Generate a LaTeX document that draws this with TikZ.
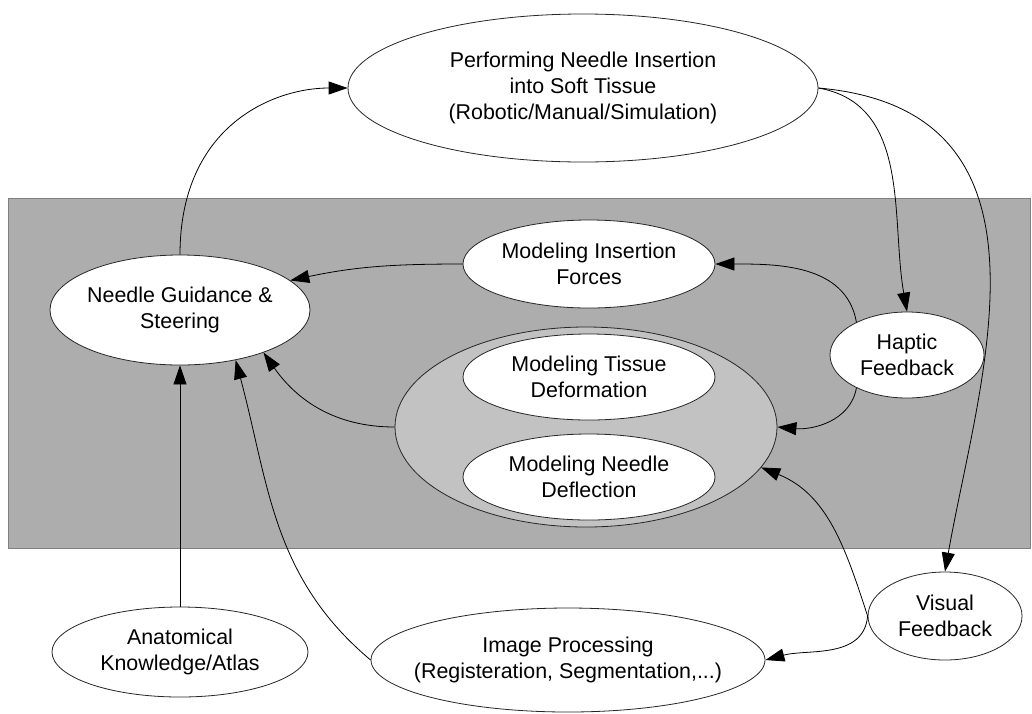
\documentclass[tikz,border=0pt]{standalone}
\usepackage{fontspec}
\setmainfont{Liberation Sans}
\usetikzlibrary{shapes.geometric, arrows.meta}
\definecolor{band}{gray}{0.68}
\definecolor{groupfill}{gray}{0.76}
\definecolor{rim}{gray}{0.5}
\tikzset{
    ->, % Directed connectors
    >={Triangle[length=9.5pt,width=6.5pt]}, % Filled triangle heads
    x=0.5pt, y=-0.5pt, % One unit is one pixel, counted downwards
    topic/.style={ellipse, draw=black!85, fill=white, thin, inner sep=0pt,
        align=center, font=\fontsize{10.7}{12.8}\selectfont}, % White bubbles
    group/.style={ellipse, draw=black!85, fill=groupfill, thin, inner sep=0pt}, % Modeling bubble
}

\begin{document}
\begin{tikzpicture}
    \useasboundingbox (0,0) rectangle (1032,713);
    \draw[-, draw=rim, fill=band] (8,198) rectangle (1030,548);

    \node[group, minimum width=191pt, minimum height=100pt] (model) at (586,427) {};
    \node[topic, minimum width=235pt, minimum height=74pt] (perform) at (583,88)
        {Performing Needle Insertion\\into Soft Tissue\\(Robotic/Manual/Simulation)};
    \node[topic, minimum width=130pt, minimum height=55pt, inner xsep=-2pt] (guide) at (180,310)
        {Needle Guidance \&\\Steering};
    \node[topic, minimum width=126pt, minimum height=44pt] (forces) at (589,264)
        {Modeling Insertion\\Forces};
    \node[topic, minimum width=126pt, minimum height=43pt] (tissue) at (589,377)
        {Modeling Tissue\\Deformation};
    \node[topic, minimum width=126pt, minimum height=43pt] (needle) at (589,477)
        {Modeling Needle\\Deflection};
    \node[topic, minimum width=77pt, minimum height=43pt] (haptic) at (907,355)
        {Haptic\\Feedback};
    \node[topic, minimum width=77pt, minimum height=44pt] (visual) at (945,616)
        {Visual\\Feedback};
    \node[topic, minimum width=128pt, minimum height=45pt] (atlas) at (180,652)
        {Anatomical\\Knowledge/Atlas};
    \node[topic, minimum width=197pt, minimum height=52pt, inner xsep=-10pt] (imgproc) at (568,660)
        {Image Processing\\(Registeration, Segmentation,...)};

    \path
        (guide.north) edge [out=90, in=180, out looseness=1.4, in looseness=0.8] (perform.west)
        (perform.east) edge [out=-10, in=100] (haptic.north)
                       edge [out=-5, in=80, out looseness=1.3] (visual.north)
        (forces.west) edge [out=180, in=12] (guide.15)
        (model.west) edge [out=180, in=-55] (guide.-27)
        (atlas) edge (guide)
        (imgproc.west) edge [out=140, in=-75] (guide.-42)
        (haptic.147) edge [out=100, in=0] (forces.east)
        (haptic.-147) edge [out=-100, in=-5] (model.east)
        (visual.west) edge [out=108, in=-22] (model.-13)
                      edge [out=-95, in=15] (imgproc.east);
\end{tikzpicture}
\end{document}
